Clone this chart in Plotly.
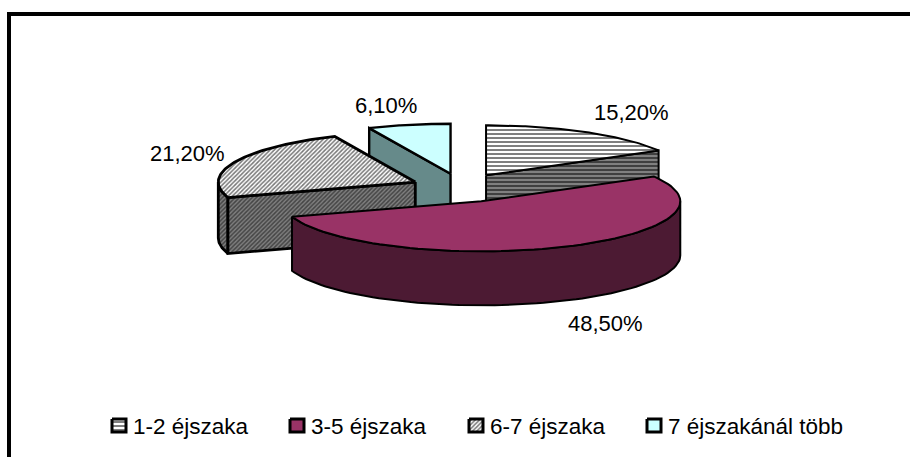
import numpy as np
import plotly.graph_objects as go

categories = ["1-2 éjszaka", "3-5 éjszaka", "6-7 éjszaka", "7 éjszakánál több"]
values = [15.2, 48.5, 21.2, 6.1]
value_labels = ["15,20%", "48,50%", "21,20%", "6,10%"]

X0, Y0 = 461.0, 188.0     # pie centre on the 910x457 axes
RX, RY = 199.0, 50.0
SLICE_RX = [RX, RX, 197.0, RX]
SLICE_DEPTH = [54.0, 54.0, 56.0, 54.0]
EX, EY = 50.0, 14.6       # explosion

def hatch(shape, fg, bg, size, sol):
    return dict(shape=shape, fgcolor=fg, bgcolor=bg, size=size, solidity=sol, fillmode="replace")

top_style = [
    dict(fillcolor="white", fillpattern=hatch("-", "black", "white", 4, 0.25)),
    dict(fillcolor="#993366"),
    dict(fillcolor="white", fillpattern=hatch("/", "#777777", "white", 3, 0.5)),
    dict(fillcolor="#CCFFFF"),
]
side_style = [
    dict(fillcolor="#808080", fillpattern=hatch("-", "black", "#808080", 4, 0.25)),
    dict(fillcolor="#4C1A33"),
    dict(fillcolor="#6a6a6a", fillpattern=hatch("/", "#444444", "#808080", 3, 0.5)),
    dict(fillcolor="#668A8A"),
]
cut_face = [True, False, True, True]
cut_edge = [1, 0, 0, 0]   # which edge of the wedge shows a cut face
outline = [2.0, 2.0, 2.8, 2.4]

fig = go.Figure()

def poly(xs, ys, style, name, width):
    fig.add_trace(go.Scatter(x=xs, y=ys, mode="lines", fill="toself", line=dict(color="black", width=width),
                             showlegend=False, hoverinfo="skip", name=name, **style))

total = sum(values)
edges = np.concatenate([[0], np.cumsum(values)]) / total * 2 * np.pi

def centre(i):
    mid = (edges[i] + edges[i + 1]) / 2
    return X0 + EX * np.sin(mid), Y0 - EY * np.cos(mid)

def rim(i, a, b, n=80):
    cx, cy = centre(i)
    t = np.linspace(a, b, n)
    return cx + SLICE_RX[i] * np.sin(t), cy - RY * np.cos(t)

def draw_sides(i):
    cx, cy = centre(i)
    d = SLICE_DEPTH[i]
    a, b = edges[i], edges[i + 1]
    lo, hi = max(a, np.pi / 2), min(b, 3 * np.pi / 2)
    if hi > lo:
        x, y = rim(i, lo, hi)
        poly(np.r_[x, x[::-1], x[0]], np.r_[y, y[::-1] + d, y[0]], side_style[i], categories[i], outline[i])
    if cut_face[i]:
        e = edges[i + cut_edge[i]]
        ex, ey = rim(i, e, e, 1)
        poly([cx, ex[0], ex[0], cx, cx], [cy, ey[0], ey[0] + d, cy + d, cy], side_style[i], categories[i], outline[i])

def draw_top(i):
    cx, cy = centre(i)
    x, y = rim(i, edges[i], edges[i + 1])
    poly(np.r_[cx, x, cx], np.r_[cy, y, cy], top_style[i], categories[i], outline[i])

for i in [3, 0, 2, 1]:
    draw_sides(i)
    draw_top(i)

LEGEND_FONT = dict(family="Liberation Sans, Arial", size=22.5, color="black")
LABEL_FONT = dict(family="Liberation Sans, Arial", size=22, color="black")
legend_x = [112, 290, 469, 647]
annotations = []
for i, c in enumerate(categories):
    lx = legend_x[i]
    poly([lx, lx + 14, lx + 14, lx, lx], [419, 419, 432, 432, 419], top_style[i], c, 3)
    annotations.append(dict(x=lx + 19, y=426, text=c, xanchor="left", yanchor="middle", showarrow=False, font=LEGEND_FONT))

label_pos = [(631, 112), (605, 323), (187.5, 153), (386, 105)]
for (lx, ly), t in zip(label_pos, value_labels):
    annotations.append(dict(x=lx, y=ly, text=t, xanchor="center", yanchor="middle", showarrow=False, font=LABEL_FONT))

fig.update_layout(
    width=910, height=457, margin=dict(l=0, r=0, t=0, b=0),
    paper_bgcolor="white", plot_bgcolor="white", showlegend=False,
    xaxis=dict(range=[0, 910], visible=False, fixedrange=True),
    yaxis=dict(range=[457, 0], visible=False, fixedrange=True),
    annotations=annotations,
    shapes=[dict(type="rect", x0=9, y0=14, x1=930, y1=480, line=dict(color="black", width=4),
                 fillcolor="rgba(0,0,0,0)", layer="above")],
)
fig.write_html("out.html", config=dict(displayModeBar=False),
               post_script="document.body.style.margin='0';document.documentElement.style.overflow='hidden';")
